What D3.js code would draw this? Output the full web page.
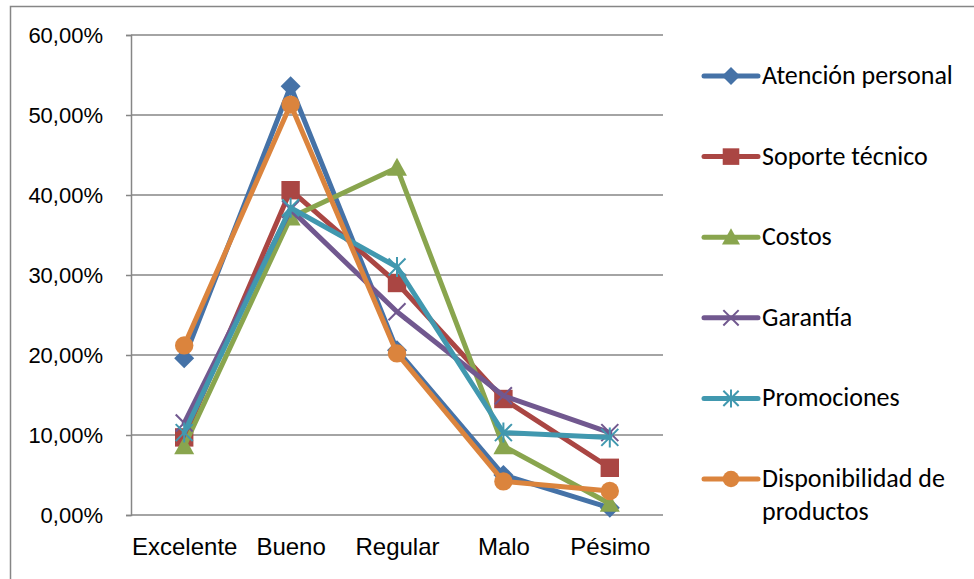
<!DOCTYPE html>
<html>
<head>
<meta charset="utf-8">
<script src="https://cdn.jsdelivr.net/npm/d3@7"></script>
<style>
  html, body { margin: 0; padding: 0; background: #fff; }
  svg { display: block; font-family: Carlito, Calibri, Lato, "Open Sans", sans-serif; }
</style>
</head>
<body>
<svg id="chart" width="974" height="579"></svg>
<script>
// Survey ratings by aspect (percent of responses)
const categories = ["Excelente", "Bueno", "Regular", "Malo", "Pésimo"];
const seriesNames = ["Atención personal", "Soporte técnico", "Costos", "Garantía", "Promociones", "Disponibilidad de productos"];
const atencionPersonal = [19.6, 53.6, 20.6, 5.0, 0.9];
const soporteTecnico   = [9.7, 40.6, 29.0, 14.5, 5.9];
const costos           = [8.6, 37.2, 43.4, 8.6, 1.4];
const garantia         = [11.5, 38.2, 25.4, 14.9, 10.3];
const promociones      = [10.3, 38.4, 31.0, 10.3, 9.7];
const disponibilidad   = [21.2, 51.3, 20.2, 4.2, 3.0];
const yTicks = [0, 10, 20, 30, 40, 50, 60];

const seriesValues = [atencionPersonal, soporteTecnico, costos, garantia, promociones, disponibilidad];
const colors = ["#4572A7", "#AA4643", "#89A54E", "#71588F", "#4198AF", "#DB843D"];
const markers = ["diamond", "square", "triangle", "x", "star", "circle"];

const svg = d3.select("#chart");
const plot = { left: 131, right: 663, top: 35, bottom: 515 };
const grey = "#868686";

// outer chart frame
svg.append("rect")
  .attr("x", 10.5).attr("y", 6.5).attr("width", 1000).attr("height", 600)
  .attr("fill", "none").attr("stroke", grey).attr("stroke-width", 1.5);

const x = d3.scalePoint().domain(categories).range([plot.left, plot.right]).padding(0.5);
const y = d3.scaleLinear().domain([0, 60]).range([plot.bottom, plot.top]);

// horizontal gridlines
svg.append("g").selectAll("line").data(yTicks.filter(t => t > 0)).join("line")
  .attr("x1", plot.left).attr("x2", plot.right)
  .attr("y1", d => y(d)).attr("y2", d => y(d))
  .attr("stroke", grey).attr("stroke-width", 1.5);

// y axis
const fmt = v => v.toFixed(2).replace(".", ",") + "%";
const yAxis = svg.append("g").attr("transform", `translate(${plot.left},0)`)
  .call(d3.axisLeft(y).tickValues(yTicks).tickFormat(fmt).tickSize(5).tickPadding(23));
yAxis.select(".domain").attr("stroke", grey).attr("stroke-width", 1.5);
yAxis.selectAll(".tick line").attr("stroke", grey).attr("stroke-width", 1.5);
yAxis.selectAll(".tick text").attr("font-size", 22).attr("font-family", null).attr("fill", "#000");

// x axis
const xAxis = svg.append("g").attr("transform", `translate(0,${plot.bottom})`)
  .call(d3.axisBottom(x).tickSize(0).tickPadding(23));
xAxis.select(".domain").attr("stroke", grey).attr("stroke-width", 1.5)
  .attr("d", `M${plot.left},0H${plot.right}`);
xAxis.selectAll(".tick text").attr("font-size", 24).attr("font-family", null).attr("fill", "#000");

// marker drawing
function drawMarker(g, type, color, s) {
  const h = s / 2;
  if (type === "diamond") {
    g.append("path").attr("d", `M0,${-h}L${h},0L0,${h}L${-h},0Z`).attr("fill", color);
  } else if (type === "square") {
    g.append("rect").attr("x", -h * 0.92).attr("y", -h * 0.92).attr("width", s * 0.92).attr("height", s * 0.92).attr("fill", color);
  } else if (type === "triangle") {
    g.append("path").attr("d", `M0,${-h}L${h},${h * 0.8}L${-h},${h * 0.8}Z`).attr("fill", color);
  } else if (type === "circle") {
    g.append("circle").attr("r", h * 0.92).attr("fill", color);
  } else if (type === "x" || type === "star") {
    const a = h * 0.85;
    let d = `M${-a},${-a}L${a},${a}M${-a},${a}L${a},${-a}`;
    if (type === "star") d += `M0,${-h}L0,${h}`;
    g.append("path").attr("d", d).attr("stroke", color).attr("stroke-width", 2).attr("fill", "none");
  }
}

const line = d3.line().x((d, i) => x(categories[i])).y(d => y(d));

seriesValues.forEach((vals, si) => {
  const g = svg.append("g");
  g.append("path").datum(vals).attr("d", line)
    .attr("fill", "none").attr("stroke", colors[si]).attr("stroke-width", 5)
    .attr("stroke-linejoin", "round").attr("stroke-linecap", "round");
  vals.forEach((v, i) => {
    const m = g.append("g").attr("transform", `translate(${x(categories[i])},${y(v)})`);
    drawMarker(m, markers[si], colors[si], 20);
  });
});

// legend
const legend = svg.append("g");
const rowY = d3.scaleLinear().domain([0, 5]).range([76, 479]);
seriesNames.forEach((name, i) => {
  const g = legend.append("g").attr("transform", `translate(0,${rowY(i)})`);
  g.append("line").attr("x1", 704).attr("x2", 758).attr("y1", 0).attr("y2", 0)
    .attr("stroke", colors[i]).attr("stroke-width", 5).attr("stroke-linecap", "round");
  const m = g.append("g").attr("transform", "translate(731,0)");
  drawMarker(m, markers[i], colors[i], 18);
  const t = g.append("text").attr("x", 762).attr("y", 8).attr("font-size", 26).attr("fill", "#000");
  if (name === "Disponibilidad de productos") {
    t.append("tspan").attr("x", 762).text("Disponibilidad de");
    t.append("tspan").attr("x", 762).attr("dy", 33).text("productos");
  } else {
    t.text(name);
  }
});
</script>
</body>
</html>
